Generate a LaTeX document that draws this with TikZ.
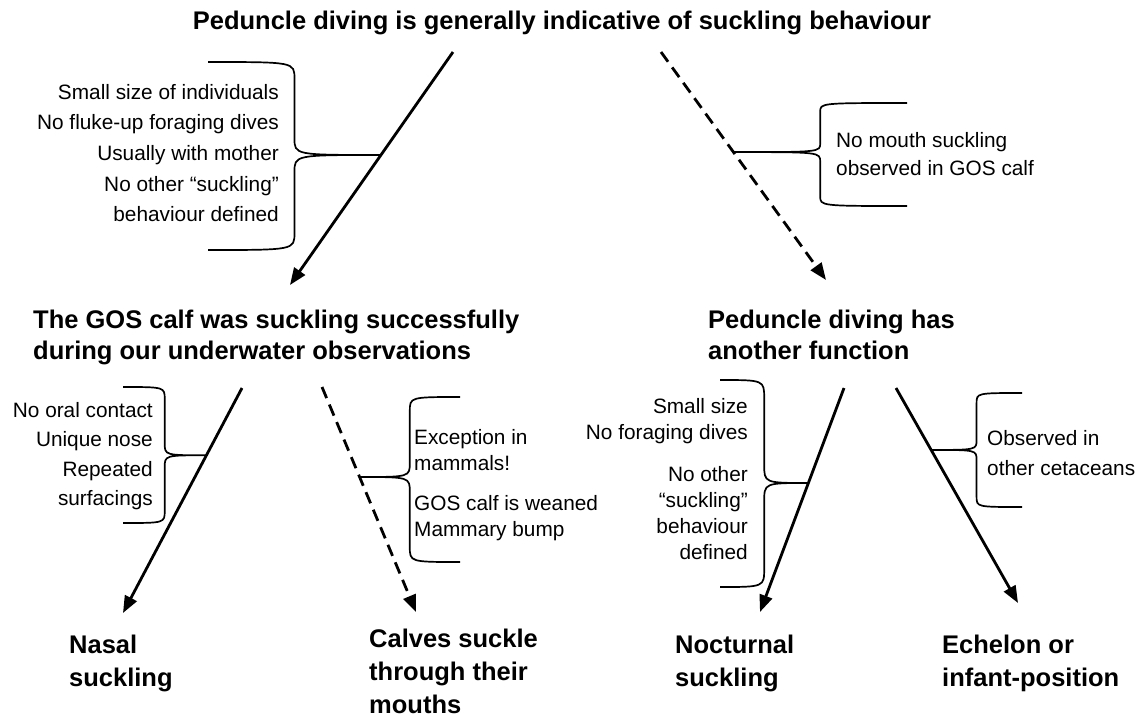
\documentclass[tikz,border=0pt]{standalone}
\usepackage{fontspec}
\setmainfont{Liberation Sans}
\usetikzlibrary{arrows.meta,calc}
\tikzset{
  headline/.style={
    font=\bfseries\fontsize{25.5}{31}\selectfont,
    inner sep=0pt, align=left
  },
  outcome/.style={
    font=\bfseries\fontsize{25.5}{33}\selectfont,
    inner sep=0pt, align=left, anchor=north west
  },
  reason/.style={
    font=\fontsize{20.8}{#1}\selectfont, inner sep=0pt
  },
  reason/.default=30,
  linkarrow/.style={
    line width=2.8pt, -{Triangle[length=17pt,width=13pt]}
  },
  guessarrow/.style={
    linkarrow, dash pattern=on 12pt off 7pt
  },
  halfbrace/.style={
    line width=1.7pt,
    to path={let \p1=(\tikztostart), \p2=(\tikztotarget),
      \n1={(\x1+\x2)/2}, \n2={0.18*(\y2-\y1)} in
      .. controls (\n1,\y1) .. (\n1,\y1+\n2)
      -- (\n1,\y2-\n2)
      .. controls (\n1,\y2) .. (\tikztotarget)}
  },
}

\begin{document}
\begin{tikzpicture}[x=1pt,y=1pt]
  \useasboundingbox (0,0) rectangle (1145,-721);

  % hypotheses and outcomes
  \node[headline, anchor=base] (top) at (562,-29)
    {Peduncle diving is generally indicative of suckling behaviour};
  \node[headline, anchor=north west] (calf) at (33,-310)
    {The GOS calf was suckling successfully\\during our underwater observations};
  \node[headline, anchor=north west] (other) at (708,-310)
    {Peduncle diving has\\another function};
  \node[outcome] (nasal) at (69,-635) {Nasal\\suckling};
  \node[outcome] (mouth) at (369,-629) {Calves suckle\\through their\\mouths};
  \node[outcome] (night) at (675,-635) {Nocturnal\\suckling};
  \node[outcome] (echelon) at (942,-635) {Echelon or\\infant-position};

  % arrows
  \coordinate (s1) at (453,-52);  \coordinate (e1) at (290,-285);
  \coordinate (s2) at (661,-52);  \coordinate (e2) at (826,-280);
  \coordinate (s3) at (242,-388); \coordinate (e3) at (123,-613);
  \coordinate (s4) at (322,-387); \coordinate (e4) at (416,-612);
  \coordinate (s5) at (844,-388); \coordinate (e5) at (760,-612);
  \coordinate (s6) at (896,-388); \coordinate (e6) at (1018,-603);
  \draw[linkarrow] (s1) -- (e1);
  \draw[guessarrow] (s2) -- (e2);
  \draw[linkarrow] (s3) -- (e3);
  \draw[guessarrow] (s4) -- (e4);
  \draw[linkarrow] (s5) -- (e5);
  \draw[linkarrow] (s6) -- (e6);

  % arguments
  \node[reason=30.7, anchor=east, align=right] (why1) at (279,-153)
    {Small size of individuals\\No fluke-up foraging dives\\Usually with mother\\No other “suckling”\\behaviour defined};
  \node[reason=28, anchor=west, align=left] (why2) at (836,-154)
    {No mouth suckling\\observed in GOS calf};
  \node[reason=29.5, anchor=east, align=right] (why3) at (153,-456)
    {No oral contact\\Unique nose\\Repeated\\surfacings};
  \node[reason=26, anchor=west, align=left] (why4) at (414,-485)
    {Exception in\\mammals!\\[14pt]GOS calf is weaned\\Mammary bump};
  \node[reason=26, anchor=east, align=right] (why5) at (748,-479)
    {Small size\\No foraging dives\\[16pt]No other\\“suckling”\\behaviour\\defined};
  \node[reason=30, anchor=west, align=left] (why6) at (987,-453)
    {Observed in\\other cetaceans};

  % braces
  \coordinate (k1) at ($(s1)!0.442!(e1)$);
  \coordinate (k2) at ($(s2)!0.439!(e2)$);
  \coordinate (k3) at ($(s3)!0.299!(e3)$);
  \coordinate (k4) at ($(s4)!0.4!(e4)$);
  \coordinate (k5) at ($(s5)!0.424!(e5)$);
  \coordinate (k6) at ($(s6)!0.288!(e6)$);
  \coordinate (u1) at (208,-62);   \coordinate (d1) at (208,-250);
  \coordinate (u2) at (907,-103);  \coordinate (d2) at (907,-206);
  \coordinate (u3) at (123,-387);  \coordinate (d3) at (123,-523);
  \coordinate (u4) at (460,-397);  \coordinate (d4) at (460,-562);
  \coordinate (u5) at (720,-380);  \coordinate (d5) at (720,-587);
  \coordinate (u6) at (1022,-393); \coordinate (d6) at (1022,-507);
  \draw[halfbrace] (u1) to (k1) (d1) to (k1);
  \draw[halfbrace] (u2) to (k2) (d2) to (k2);
  \draw[halfbrace] (u3) to (k3) (d3) to (k3);
  \draw[halfbrace] (u4) to (k4) (d4) to (k4);
  \draw[halfbrace] (u5) to (k5) (d5) to (k5);
  \draw[halfbrace] (u6) to (k6) (d6) to (k6);
\end{tikzpicture}
\end{document}
